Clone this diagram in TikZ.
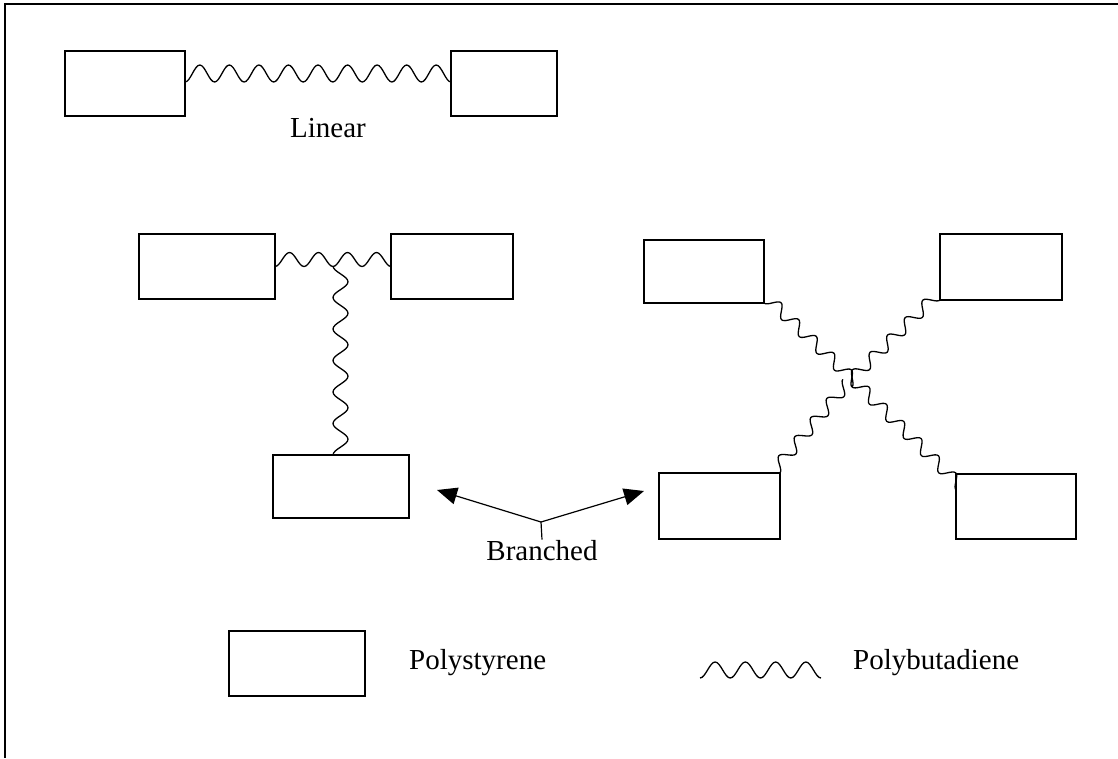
\documentclass[tikz,border=0pt]{standalone}
\usepackage{fontspec}
\setmainfont{Liberation Serif}
\usetikzlibrary{decorations,arrows.meta}

% A wave that starts on the path and swings to one side of it,
% made of a fixed number of half-waves spread evenly over the path.
\def\pwhalves{8}
\pgfdeclaredecoration{polywave}{init}{%
  \state{init}[width=0pt, next state=up, persistent precomputation={%
      \pgfmathsetlengthmacro\pwh{\pgfdecoratedpathlength/\pwhalves}%
      \pgfmathsetlengthmacro\pwq{\pgfdecoratedpathlength/(2*\pwhalves)}}]{%
    \pgfpathmoveto{\pgfpointorigin}%
  }%
  \state{up}[switch if less than=\pwq to final, width=\pwh, next state=down]{%
    \pgfpathcosine{\pgfqpoint{\pwq}{\pgfdecorationsegmentamplitude}}%
    \pgfpathsine{\pgfqpoint{\pwq}{\pgfdecorationsegmentamplitude}}%
  }%
  \state{down}[switch if less than=\pwq to final, width=\pwh, next state=up]{%
    \pgfpathcosine{\pgfqpoint{\pwq}{-\pgfdecorationsegmentamplitude}}%
    \pgfpathsine{\pgfqpoint{\pwq}{-\pgfdecorationsegmentamplitude}}%
  }%
  \state{final}{}%
}

\begin{document}
\begin{tikzpicture}[x=1pt,y=-1pt,
  psbox/.style={draw, line width=1.3pt, inner sep=0pt, outer sep=0pt},
  pbwave/.style 2 args={decorate, line width=1.3pt, line join=round,
    decoration={polywave, amplitude=#1},
    /utils/exec={\def\pwhalves{#2}}},
  pointer/.style={line width=1.2pt, -{Triangle[length=20pt,width=17pt]}},
  lbl/.style={font=\fontsize{29}{34}\selectfont, inner sep=0pt}
]
\useasboundingbox (0,0) rectangle (1118,758);

% frame (top and left edges only)
\draw[line width=1.5pt] (1118,4) -- (5,4) -- (5,758);

% ---- linear triblock ----
\node[psbox, minimum width=120pt, minimum height=65pt] (L1) at (125,83.5) {};
\node[psbox, minimum width=106pt, minimum height=65pt] (L2) at (504,83.5) {};
\draw[pbwave={8.5pt}{18}] ([yshift=1.5pt]L1.east) -- ([yshift=1.5pt]L2.west);
\node[lbl, anchor=base] (linear) at (328,137) {Linear};

% ---- branched: three arms ----
\node[psbox, minimum width=136pt, minimum height=65pt] (T1) at (207,266.5) {};
\node[psbox, minimum width=122pt, minimum height=65pt] (T2) at (452,266.5) {};
\node[psbox, minimum width=136pt, minimum height=63pt] (T3) at (341,486.5) {};
\coordinate (TJ) at (333,266);
\draw[pbwave={7pt}{8}] (T1.east) -- (T2.west);
\draw[pbwave={7.5pt}{12}] (TJ) -- ([xshift=-8pt]T3.north);

% ---- branched: four arms ----
\node[psbox, minimum width=120pt, minimum height=63pt] (X1) at (704,271.5) {};
\node[psbox, minimum width=122pt, minimum height=66pt] (X2) at (1001,267) {};
\node[psbox, minimum width=121pt, minimum height=66pt] (X3) at (719.5,506) {};
\node[psbox, minimum width=120pt, minimum height=65pt] (X4) at (1016,506.5) {};
\coordinate (XC) at (852,387);
\draw[pbwave={6pt}{10}] (X1.south east) -- (XC);
\draw[pbwave={-6pt}{10}] (X2.south west) -- (XC);
\draw[pbwave={6pt}{9}] (X3.north east) -- (XC);
\draw[pbwave={-6pt}{12}] ([yshift=-16pt]X4.north west) -- (XC);

% ---- label with pointers ----
\node[lbl, anchor=base] (branched) at (542,560) {Branched};
\coordinate (BJ) at (541,522);
\coordinate (BL) at (437,490);
\coordinate (BR) at (644,491);
\draw[line width=1.2pt] (branched.north) -- (BJ);
\draw[pointer] (BJ) -- (BL);
\draw[pointer] (BJ) -- (BR);

% ---- legend ----
\node[psbox, minimum width=136pt, minimum height=65pt] (PS) at (297,663.5) {};
\node[lbl, anchor=base west] (pstext) at (409,669) {Polystyrene};
\coordinate (W1) at (700,678);
\coordinate (W2) at (821,678);
\draw[pbwave={8pt}{8}] (W1) -- (W2);
\node[lbl, anchor=base west] (pbtext) at (853,669) {Polybutadiene};
\end{tikzpicture}
\end{document}
